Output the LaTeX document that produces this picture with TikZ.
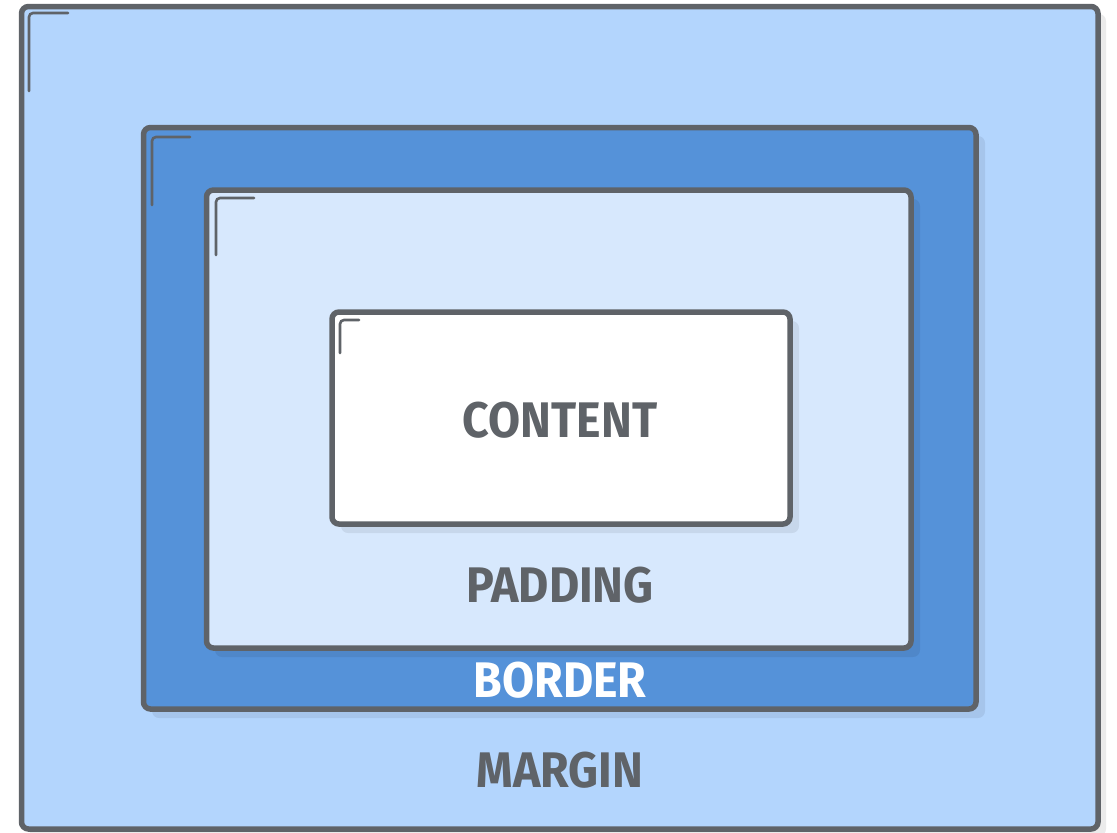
\documentclass[tikz,border=0pt]{standalone}
\usepackage{fontspec}
\setmainfont{Fira Sans}
\usetikzlibrary{calc}
\definecolor{strokegray}{HTML}{5F6368}
\definecolor{marginblue}{HTML}{B3D5FD}
\definecolor{borderblue}{HTML}{5592D9}
\definecolor{paddingblue}{HTML}{D7E8FD}
\begin{document}
\begin{tikzpicture}[x=1pt,y=-1pt,
  box/.style={draw=strokegray, line width=5.5pt, rounded corners=7pt},
  shade box/.style={fill=black, fill opacity=0.07, rounded corners=7pt},
  cornermark/.style={draw=strokegray, line width=2.6pt, line cap=round, rounded corners=4pt},
  label/.style={font=\fontsize{50}{50}\selectfont\bfseries, text=strokegray, inner sep=0pt, anchor=base}
]
\useasboundingbox (0,0) rectangle (1117,833);
% margin box
\fill[black, opacity=0.08, rounded corners=7pt] (29,14) rectangle (1106,836);
\draw[box, fill=marginblue] (21.5,6.5) rectangle (1098,829);
\draw[cornermark] (29,91) -- (29,13) -- (68,13);
% border box
\fill[shade box] (152,136) rectangle (985,718);
\draw[box, fill=borderblue] (143.5,127.5) rectangle (976,709);
\draw[cornermark] (152,205) -- (152,137) -- (190,137);
% padding box
\fill[shade box] (215,199) rectangle (920,657);
\draw[box, fill=paddingblue] (206.5,190) rectangle (911,648);
\draw[cornermark] (216,255) -- (216,198) -- (254,198);
% content box
\fill[shade box] (341,321) rectangle (799,533);
\draw[box, fill=white] (332,312) rectangle (790,524);
\draw[cornermark] (340,353) -- (340,320) -- (359,320);
% labels
\node[label] (content) at (560,437) {\scalebox{0.93}[1]{CONTENT}};
\node[label] (padding) at (560,602) {\scalebox{0.93}[1]{PADDING}};
\node[label, text=white] (border) at (560,697) {\scalebox{0.93}[1]{BORDER}};
\node[label] (margin) at (560,787) {\scalebox{0.93}[1]{MARGIN}};
\end{tikzpicture}
\end{document}
